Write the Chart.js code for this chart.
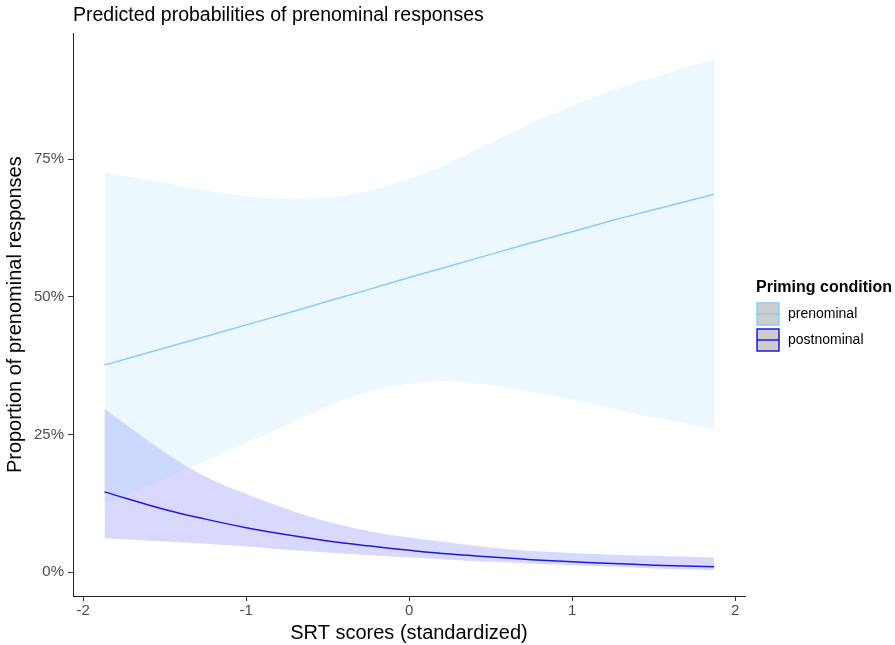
<!DOCTYPE html>
<html>
<head>
<meta charset="utf-8">
<title>Predicted probabilities of prenominal responses</title>
<script src="https://cdn.jsdelivr.net/npm/chart.js@4/dist/chart.umd.min.js"></script>
<style>
  html, body { margin: 0; padding: 0; background: #fff; }
  canvas { display: block; }
</style>
</head>
<body>
<canvas id="chart" width="895" height="645"></canvas>
<script>
const FONT = '"Liberation Sans", Arial, sans-serif'

// SRT score grid and predicted values
const srtScores = [-1.87, -1.5, -1.25, -1, -0.75, -0.5, -0.25, 0, 0.25, 0.5, 0.75, 1, 1.25, 1.5, 1.87]

const prenominalFit  = [0.376, 0.407, 0.428, 0.449, 0.470, 0.492, 0.513, 0.535, 0.556, 0.577, 0.598, 0.618, 0.639, 0.658, 0.686]
const prenominalLow  = [0.124, 0.170, 0.202, 0.235, 0.267, 0.301, 0.328, 0.342, 0.346, 0.340, 0.327, 0.313, 0.297, 0.281, 0.259]
const prenominalHigh = [0.725, 0.707, 0.693, 0.683, 0.678, 0.680, 0.692, 0.714, 0.744, 0.780, 0.815, 0.847, 0.875, 0.898, 0.931]

const postnominalFit  = [0.146, 0.114, 0.0965, 0.081, 0.068, 0.057, 0.048, 0.040, 0.033, 0.028, 0.023, 0.019, 0.016, 0.013, 0.010]
const postnominalLow  = [0.062, 0.056, 0.052, 0.047, 0.041, 0.036, 0.031, 0.027, 0.023, 0.019, 0.016, 0.013, 0.010, 0.007, 0.004]
const postnominalHigh = [0.297, 0.218, 0.174, 0.142, 0.115, 0.092, 0.075, 0.063, 0.054, 0.045, 0.039, 0.035, 0.032, 0.030, 0.027]

const xTicks = [-2, -1, 0, 1, 2]
const yTicks = [0, 0.25, 0.5, 0.75]
const conditions = ['prenominal', 'postnominal']

const lineColours = ['#87cefa', '#1a1ae0']
const ribbonColours = ['rgba(135, 206, 250, 0.15)', 'rgba(0, 0, 255, 0.15)']

const pts = (ys) => srtScores.map((x, i) => ({ x: x, y: ys[i] }))

const ribbon = (ys, i, fill) => ({
  data: pts(ys),
  borderWidth: 0,
  pointRadius: 0,
  backgroundColor: ribbonColours[i],
  fill: fill,
  tension: 0.4,
  order: 2
})

const fitLine = (ys, i) => ({
  label: conditions[i],
  data: pts(ys),
  borderColor: lineColours[i],
  borderWidth: 1.5,
  pointRadius: 0,
  fill: false,
  tension: 0.4,
  order: 0
})

// ggplot-ish legend on the right
const primingLegend = {
  id: 'primingLegend',
  afterDraw(chart) {
    const ctx = chart.ctx
    ctx.save()
    ctx.textBaseline = 'middle'
    ctx.textAlign = 'left'
    ctx.fillStyle = '#000'
    ctx.font = 'bold 16px ' + FONT
    ctx.fillText('Priming condition', 756, 288)
    conditions.forEach((name, i) => {
      const y = 303 + i * 26
      ctx.fillStyle = '#cdcdcd'
      ctx.fillRect(757, y, 22, 22)
      ctx.strokeStyle = lineColours[i]
      ctx.lineWidth = 1.5
      ctx.strokeRect(757, y, 22, 22)
      ctx.beginPath()
      ctx.moveTo(757, y + 11)
      ctx.lineTo(779, y + 11)
      ctx.stroke()
      ctx.fillStyle = '#000'
      ctx.font = '14px ' + FONT
      ctx.fillText(name, 788, y + 11)
    })
    ctx.restore()
  }
}

new Chart(document.getElementById('chart'), {
  type: 'line',
  data: {
    datasets: [
      ribbon(prenominalLow, 0, false),
      ribbon(prenominalHigh, 0, '-1'),
      ribbon(postnominalLow, 1, false),
      ribbon(postnominalHigh, 1, '-1'),
      fitLine(prenominalFit, 0),
      fitLine(postnominalFit, 1)
    ]
  },
  options: {
    responsive: false,
    animation: false,
    layout: { padding: { left: 0, right: 150, top: 0, bottom: 0 } },
    plugins: {
      legend: { display: false },
      tooltip: { enabled: false },
      title: {
        display: true,
        text: 'Predicted probabilities of prenominal responses',
        align: 'start',
        fullSize: false,
        color: '#000',
        font: { family: FONT, size: 19.5, weight: 'normal' },
        padding: { top: 4, bottom: 6 }
      }
    },
    scales: {
      x: {
        type: 'linear',
        min: -2.063,
        max: 2.06,
        afterBuildTicks: (s) => { s.ticks = xTicks.map(v => ({ value: v })) },
        afterFit: (s) => { s.height = 49 },
        ticks: {
          color: '#4d4d4d',
          font: { family: FONT, size: 15 },
          padding: 1,
          maxRotation: 0
        },
        grid: { display: true, drawOnChartArea: false, drawTicks: true, tickLength: 5, color: '#333' },
        border: { display: true, color: '#222', width: 1 },
        title: {
          display: true,
          text: 'SRT scores (standardized)',
          color: '#000',
          font: { family: FONT, size: 20 },
          padding: { top: 0, bottom: 0 }
        }
      },
      y: {
        type: 'linear',
        min: -0.043,
        max: 0.978,
        afterBuildTicks: (s) => { s.ticks = yTicks.map(v => ({ value: v })) },
        afterFit: (s) => { s.width = 73 },
        ticks: {
          color: '#4d4d4d',
          font: { family: FONT, size: 15 },
          padding: 4,
          callback: (v) => Math.round(v * 100) + '%'
        },
        grid: { display: true, drawOnChartArea: false, drawTicks: true, tickLength: 5, color: '#333' },
        border: { display: true, color: '#222', width: 1 },
        title: {
          display: true,
          text: 'Proportion of prenominal responses',
          color: '#000',
          font: { family: FONT, size: 20 },
          padding: { top: 3, bottom: 0 }
        }
      }
    }
  },
  plugins: [primingLegend]
})
</script>
</body>
</html>
